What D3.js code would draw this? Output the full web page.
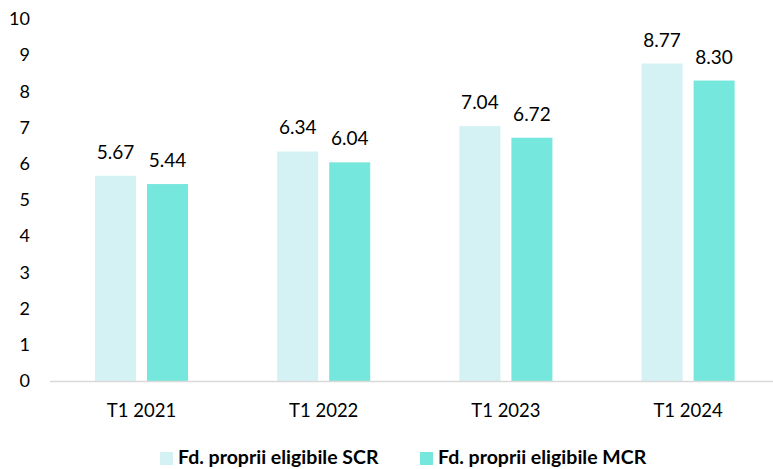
<!DOCTYPE html>
<html><head><meta charset="utf-8">
<script src="https://cdn.jsdelivr.net/npm/d3@7"></script>
<style>body{margin:0;background:#fff}svg{display:block}text{font-family:Lato,"Open Sans",sans-serif}</style>
</head><body><svg id="c" width="773" height="469"></svg>
<script>
const categories = ["T1 2021","T1 2022","T1 2023","T1 2024"];
const seriesNames = ["Fd. proprii eligibile SCR","Fd. proprii eligibile MCR"];
const scrValues = [5.67,6.34,7.04,8.77];
const mcrValues = [5.44,6.04,6.72,8.30];
const yTicks = [0,1,2,3,4,5,6,7,8,9,10];
const colors = ["#d4f1f3","#76e7dc"];

const svg = d3.select("#c");
const x0 = d3.scaleBand().domain(categories).range([50.4,779.2]).paddingInner(0).paddingOuter(0);
const x1 = d3.scaleBand().domain([0,1]).range([x0.bandwidth()/2-46.5, x0.bandwidth()/2+46.5]).paddingInner(0.2115);
const y = d3.scaleLinear().domain([0,10]).range([381,19]);

const yAxis = svg.append("g").attr("transform","translate(30,0)")
  .call(d3.axisLeft(y).tickValues(yTicks).tickSize(0).tickPadding(0));
yAxis.select(".domain").remove();
yAxis.selectAll("text").attr("font-size",18).attr("fill","#000").attr("font-family","Lato, sans-serif").attr("text-anchor","end").attr("x",0);

const series = [scrValues, mcrValues];
categories.forEach((c,i)=>{
  const g = svg.append("g").attr("transform",`translate(${x0(c)},0)`);
  series.forEach((vals,s)=>{
    g.append("rect").attr("x",x1(s)).attr("width",x1.bandwidth())
      .attr("y",y(vals[i])).attr("height",y(0)-y(vals[i])).attr("fill",colors[s]);
    g.append("text").attr("x",x1(s)+x1.bandwidth()/2).attr("y",y(vals[i])-17)
      .attr("text-anchor","middle").attr("font-size",19).attr("fill","#000")
      .text(vals[i].toFixed(2));
  });
});

const xAxis = svg.append("g").attr("transform","translate(0,381)")
  .call(d3.axisBottom(x0).tickSize(0));
xAxis.select(".domain").attr("stroke","#d9d9d9").attr("stroke-width",1.5).attr("d","M50,0.5H773");
xAxis.selectAll("text").attr("font-size",18.5).attr("fill","#000").attr("font-family","Lato, sans-serif").attr("dy",null).attr("y",36);

const legend = svg.append("g");
const lx = [160,420];
seriesNames.forEach((n,s)=>{
  legend.append("rect").attr("x",lx[s]).attr("y",452).attr("width",13).attr("height",13).attr("fill",colors[s]);
  legend.append("text").attr("x",lx[s]+18).attr("y",464).attr("font-size",19.5).attr("font-weight","bold").attr("fill","#000").text(n);
});
</script></body></html>
